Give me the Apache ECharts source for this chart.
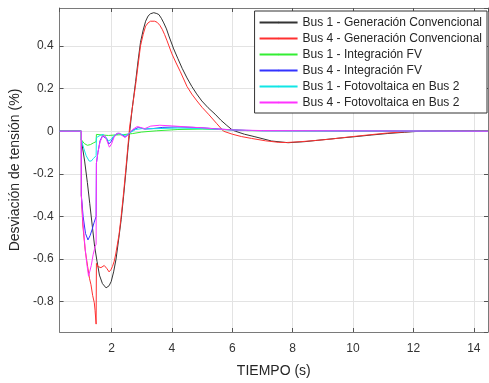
<!DOCTYPE html>
<html>
<head>
<meta charset="utf-8">
<script src="https://cdn.jsdelivr.net/npm/echarts@6/dist/echarts.min.js"></script>
<style>
html,body{margin:0;padding:0;background:#fff;}
#chart{width:489px;height:383px;}
</style>
</head>
<body>
<div id="chart"></div>
<script>
// ---- Data (time in s, deviation in %) ----
const seriesNames = [
  'Bus 1 - Generación Convencional',
  'Bus 4 - Generación Convencional',
  'Bus 1 - Integración FV',
  'Bus 4 - Integración FV',
  'Bus 1 - Fotovoltaica en Bus 2',
  'Bus 4 - Fotovoltaica en Bus 2'
];

const tBus1Gen = [0.28,1.0,1.0,1.11,1.2,1.28,1.36,1.44,1.52,1.6,1.7,1.82,1.92,1.99,2.07,2.15,2.23,2.32,2.4,2.48,2.55,2.59,2.68,2.8,2.88,2.96,3.05,3.13,3.21,3.29,3.4,3.5,3.57,3.65,3.73,3.82,3.9,4.06,4.2,4.34,4.5,4.66,4.82,4.99,5.2,5.43,5.62,5.82,6.0,6.1,6.4,6.75,7.3,7.85,8.4,8.94,9.5,10.04,10.6,11.13,11.7,12.23,13.0,14.47];
const vBus1Gen = [0,0,-0.04,-0.14,-0.24,-0.34,-0.44,-0.54,-0.61,-0.675,-0.715,-0.735,-0.725,-0.705,-0.66,-0.6,-0.515,-0.415,-0.305,-0.186,-0.075,-0.02,0.1,0.234,0.33,0.417,0.475,0.516,0.54,0.551,0.556,0.552,0.547,0.53,0.508,0.48,0.447,0.386,0.34,0.295,0.25,0.21,0.175,0.142,0.11,0.08,0.052,0.027,0.006,0,-0.014,-0.026,-0.046,-0.054,-0.049,-0.041,-0.033,-0.026,-0.018,-0.011,-0.005,0,0.002,0.001];

const tBus4Gen = [0.28,1.0,1.0,1.05,1.13,1.21,1.27,1.32,1.375,1.43,1.455,1.49,1.5,1.55,1.65,1.76,1.85,1.92,1.98,2.03,2.09,2.14,2.25,2.32,2.4,2.48,2.55,2.6,2.7,2.8,2.96,3.05,3.13,3.21,3.29,3.35,3.43,3.51,3.6,3.68,3.76,3.84,4.0,4.14,4.28,4.5,4.66,4.83,5.0,5.21,5.49,5.71,6.0,6.3,6.64,7.1,7.52,7.8,8.28,8.8,9.27,9.8,10.4,11.1,11.7,12.3,13.0,14.47];
const vBus4Gen = [0,0,-0.3,-0.44,-0.56,-0.635,-0.69,-0.72,-0.77,-0.805,-0.84,-0.905,-0.62,-0.635,-0.64,-0.63,-0.645,-0.66,-0.65,-0.635,-0.61,-0.576,-0.485,-0.4,-0.29,-0.17,-0.06,0.02,0.12,0.22,0.40,0.455,0.493,0.508,0.516,0.519,0.516,0.511,0.497,0.478,0.453,0.424,0.363,0.32,0.279,0.21,0.174,0.142,0.112,0.08,0.035,0,-0.014,-0.025,-0.034,-0.045,-0.052,-0.053,-0.049,-0.043,-0.037,-0.028,-0.019,-0.009,-0.003,0.001,0.003,0.002];

const tBus1FV = [0.28,1.0,1.0,1.1,1.2,1.3,1.4,1.49,1.5,1.7,1.9,2.1,2.4,2.7,3.0,3.5,4.2,5.0,5.8,6.5,14.47];
const vBus1FV = [0,0,-0.04,-0.058,-0.066,-0.063,-0.055,-0.049,-0.015,-0.018,-0.02,-0.018,-0.016,-0.011,-0.004,0.002,0.008,0.01,0.007,0.003,0];

const tBus4FV = [0.28,1.0,1.0,1.06,1.14,1.22,1.29,1.36,1.42,1.49,1.5,1.55,1.62,1.7,1.76,1.84,1.91,1.98,2.06,2.15,2.25,2.35,2.47,2.58,2.7,2.9,3.1,3.35,3.7,4.2,4.7,5.2,5.7,6.2,7.0,14.47];
const vBus4FV = [0,0,-0.3,-0.4,-0.48,-0.51,-0.49,-0.46,-0.43,-0.40,-0.15,-0.1,-0.045,-0.022,-0.018,-0.035,-0.06,-0.05,-0.03,-0.015,-0.01,-0.018,-0.026,-0.012,0.005,0.018,0.01,0.012,0.018,0.02,0.018,0.014,0.009,0.005,0.002,0];

const tBus1PV2 = [0.28,1.0,1.0,1.08,1.16,1.26,1.33,1.4,1.49,1.5,1.56,1.62,1.72,1.8,1.9,1.98,2.08,2.2,2.35,2.47,2.6,2.8,3.0,3.5,4.2,5.0,5.8,6.5,14.47];
const vBus1PV2 = [0,0,-0.04,-0.08,-0.115,-0.14,-0.14,-0.128,-0.115,-0.03,-0.022,-0.02,-0.015,-0.025,-0.045,-0.04,-0.02,-0.01,-0.015,-0.02,-0.008,0.008,0.012,0.012,0.015,0.012,0.007,0.003,0];

const tBus4PV2 = [0.28,1.0,1.0,1.05,1.12,1.18,1.24,1.28,1.33,1.39,1.46,1.49,1.5,1.55,1.62,1.7,1.77,1.85,1.93,2.0,2.08,2.16,2.25,2.35,2.45,2.55,2.7,2.85,2.95,3.1,3.3,3.6,4.0,4.5,5.0,5.5,6.0,7.0,14.47];
const vBus4PV2 = [0,0,-0.3,-0.42,-0.54,-0.62,-0.68,-0.685,-0.63,-0.58,-0.54,-0.53,-0.15,-0.1,-0.05,-0.025,-0.02,-0.045,-0.075,-0.06,-0.03,-0.012,-0.008,-0.02,-0.03,-0.015,0.008,0.022,0.018,0.012,0.024,0.028,0.025,0.02,0.016,0.01,0.006,0.003,0];

const xMin = 0.28, xMax = 14.47;
const yMin = -0.942, yMax = 0.578;

const colors = ['#333333','#ff3030','#33ee33','#3333ff','#11e6e6','#ff33ff'];
const timeArrays = [tBus1Gen,tBus4Gen,tBus1FV,tBus4FV,tBus1PV2,tBus4PV2];
const valueArrays = [vBus1Gen,vBus4Gen,vBus1FV,vBus4FV,vBus1PV2,vBus4PV2];

const font = '"Liberation Sans", Arial, Helvetica, sans-serif';
const chart = echarts.init(document.getElementById('chart'), null, {renderer:'canvas'});

function makeAxisCommon(){
  return {
    axisLine:{show:true, onZero:false, lineStyle:{color:'#7a7a7a', width:1}},
    axisTick:{show:true, inside:true, length:4, lineStyle:{color:'#555'}},
    splitLine:{show:false},
  };
}

const series = seriesNames.map((name,i)=>({
  name:name,
  type:'line',
  xAxisIndex:0, yAxisIndex:0,
  data: timeArrays[i].map((t,k)=>[t, valueArrays[i][k]]),
  symbol:'none',
  smooth:false,
  lineStyle:{color:colors[i], width:1},
  itemStyle:{color:colors[i]},
  animation:false,
  z:2+i
}));

const option = {
  animation:false,
  backgroundColor:'#fff',
  grid:{left:57, top:8, right:1, bottom:43, containLabel:false},
  legend:{
    orient:'vertical',
    right:2, top:11,
    backgroundColor:'#fff',
    borderColor:'#333',
    borderWidth:1,
    borderRadius:0,
    padding:[5,5,4,4],
    itemWidth:38,
    itemHeight:2,
    itemGap:3,
    z:20,
    textStyle:{fontFamily:font, fontSize:12, color:'#262626', lineHeight:13},
    data: seriesNames
  },
  xAxis:[
    Object.assign(makeAxisCommon(),{
      type:'value', position:'bottom', min:xMin, max:xMax, splitNumber:7,
      name:'TIEMPO (s)', nameLocation:'middle', nameGap:32,
      nameTextStyle:{fontFamily:font, fontSize:14, color:'#262626'},
      axisLabel:{show:true, fontFamily:font, fontSize:12, color:'#333', margin:11, showMinLabel:false, showMaxLabel:false},
      splitLine:{show:true, lineStyle:{color:'#e3e3e3', width:1}}
    }),
    Object.assign(makeAxisCommon(),{
      type:'value', position:'top', min:xMin, max:xMax, splitNumber:7,
      axisLabel:{show:false}
    })
  ],
  yAxis:[
    Object.assign(makeAxisCommon(),{
      type:'value', position:'left', min:yMin, max:yMax, splitNumber:7,
      name:'Desviación de tensión (%)', nameLocation:'middle', nameGap:28,
      nameTextStyle:{fontFamily:font, fontSize:14, color:'#262626'},
      axisLabel:{show:true, fontFamily:font, fontSize:12, color:'#333', margin:6, showMinLabel:false, showMaxLabel:false},
      splitLine:{show:true, lineStyle:{color:'#e3e3e3', width:1}}
    }),
    Object.assign(makeAxisCommon(),{
      type:'value', position:'right', min:yMin, max:yMax, splitNumber:7,
      axisLabel:{show:false}
    })
  ],
  series: series
};
chart.setOption(option);
</script>
</body>
</html>
